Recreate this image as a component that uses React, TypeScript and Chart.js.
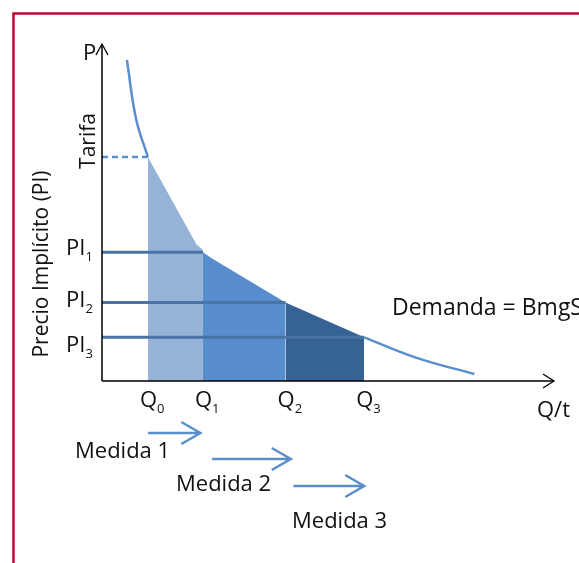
import { useEffect, useRef } from 'react';
import { Chart, registerables } from 'chart.js';

Chart.register(...registerables);

const W = 579;
const H = 563;

// Axis extents (data units)
const X_MAX = 17.2;
const Y_MAX = 15;

// Quantities Q0..Q3
const Q_VALUES = [1.75, 3.85, 7, 10];
const Q_SUBS = ['0', '1', '2', '3'];

// Implicit prices PI1..PI3 and tariff
const PI_VALUES = [5.75, 3.5, 1.95];
const PI_SUBS = ['1', '2', '3'];
const TARIFA = 10;

// Demand curve (visible parts)
const DEMAND_UPPER_X = [0.95, 1.3, 1.75];
const DEMAND_UPPER_Y = [14.33, 11.7, 10];
const DEMAND_LOWER_X = [10, 12, 14.2];
const DEMAND_LOWER_Y = [1.95, 1.03, 0.31];

// Shaded areas (top edges, following the demand curve)
const AREA1_X = [1.75, 3.6, 3.85];
const AREA1_Y = [10, 6.1, 5.85];
const AREA2_X = [3.85, 4.15, 7];
const AREA2_Y = [5.75, 5.5, 3.5];
const AREA3_X = [7, 10];
const AREA3_Y = [3.5, 1.95];

// "Medida" arrows (from/to in Q units)
const MEDIDA_LABELS = ['Medida 1', 'Medida 2', 'Medida 3'];
const MEDIDA_FROM = [1.75, 4.2, 7.3];
const MEDIDA_TO = [3.75, 7.2, 10];

const BLUE = '#5B8FCC';
const FONT = "'Open Sans', 'DejaVu Sans', sans-serif";
const FS = 22;

const pts = (xs: number[], ys: number[]) => xs.map((x, i) => ({ x, y: ys[i] }));

const drawingPlugin = {
  id: 'diagram',
  afterDraw(chart: any) {
    const ctx: CanvasRenderingContext2D = chart.ctx;
    const xs = chart.scales.x;
    const ys = chart.scales.y;
    const x0 = xs.getPixelForValue(0);
    const y0 = ys.getPixelForValue(0);
    const xEnd = xs.getPixelForValue(X_MAX);
    const yTop = ys.getPixelForValue(Y_MAX);

    ctx.save();
    // frame
    ctx.strokeStyle = '#C4002F';
    ctx.lineWidth = 2.5;
    ctx.beginPath();
    ctx.moveTo(13.5, H + 5);
    ctx.lineTo(13.5, 13.5);
    ctx.lineTo(W + 5, 13.5);
    ctx.stroke();

    // axes
    ctx.strokeStyle = '#000';
    ctx.lineWidth = 1.5;
    ctx.beginPath();
    ctx.moveTo(x0, y0);
    ctx.lineTo(x0, yTop);
    ctx.moveTo(x0, y0);
    ctx.lineTo(xEnd, y0);
    ctx.stroke();
    ctx.lineWidth = 1.3;
    ctx.beginPath();
    ctx.moveTo(x0 - 6, yTop + 10);
    ctx.lineTo(x0, yTop - 1);
    ctx.lineTo(x0 + 6, yTop + 10);
    ctx.moveTo(xEnd - 10, y0 - 7);
    ctx.lineTo(xEnd + 1, y0);
    ctx.lineTo(xEnd - 10, y0 + 7);
    ctx.stroke();

    ctx.fillStyle = '#111';
    ctx.textBaseline = 'alphabetic';
    ctx.textAlign = 'left';
    const sub = (main: string, s: string, x: number, y: number, size: number) => {
      ctx.font = `${size}px ${FONT}`;
      ctx.fillText(main, x, y);
      const w = ctx.measureText(main).width;
      ctx.font = `${Math.round(size * 0.6)}px ${FONT}`;
      ctx.fillText(s, x + w, y + 6);
    };

    // P label
    ctx.font = `22px ${FONT}`;
    ctx.fillText('P', x0 - 19, yTop + 15);

    // PI labels
    const piOffsets = [3, 4, 15];
    PI_VALUES.forEach((v, i) => {
      sub('PI', PI_SUBS[i], 66, ys.getPixelForValue(v) + piOffsets[i], FS);
    });

    // Q labels
    Q_VALUES.forEach((v, i) => {
      sub('Q', Q_SUBS[i], xs.getPixelForValue(v) - 8, y0 + 26, FS);
    });
    ctx.font = `${FS}px ${FONT}`;
    ctx.fillText('Q/t', 537, y0 + 36);
    ctx.font = `23px ${FONT}`;
    ctx.fillText('Demanda = BmgS', 392, ys.getPixelForValue(PI_VALUES[1]) + 12);

    // rotated labels
    ctx.save();
    ctx.translate(95, ys.getPixelForValue(TARIFA) - 16);
    ctx.rotate(-Math.PI / 2);
    ctx.textAlign = 'center';
    ctx.font = `21px ${FONT}`;
    ctx.fillText('Tarifa', 0, 0);
    ctx.restore();

    ctx.save();
    ctx.translate(48, 264);
    ctx.rotate(-Math.PI / 2);
    ctx.textAlign = 'center';
    ctx.font = `21px ${FONT}`;
    ctx.fillText('Precio Implícito (PI)', 0, 0);
    ctx.restore();

    // Medida arrows
    const arrowY = [52, 78, 105];
    const labelX = [75, 176, 292];
    const labelY = [77, 110, 147];
    ctx.strokeStyle = BLUE;
    ctx.lineWidth = 2.5;
    MEDIDA_LABELS.forEach((lab, i) => {
      const a = xs.getPixelForValue(MEDIDA_FROM[i]);
      const b = xs.getPixelForValue(MEDIDA_TO[i]);
      const y = y0 + arrowY[i];
      ctx.beginPath();
      ctx.moveTo(a, y);
      ctx.lineTo(b, y);
      ctx.moveTo(b - 19, y - 11);
      ctx.lineTo(b, y);
      ctx.lineTo(b - 19, y + 11);
      ctx.stroke();
      ctx.fillStyle = '#111';
      ctx.font = `${FS}px ${FONT}`;
      ctx.fillText(lab, labelX[i], y0 + labelY[i]);
    });
    ctx.restore();
  },
};

export default function App() {
  const ref = useRef<HTMLCanvasElement>(null);
  useEffect(() => {
    const line = (data: any[], extra: any) => ({
      data,
      showLine: true,
      pointRadius: 0,
      borderWidth: 0,
      ...extra,
    });
    const datasets: any[] = [
      ...PI_VALUES.map((v, i) =>
        line(pts([0, Q_VALUES[i + 1]], [v, v]), { borderColor: '#4A74A6', borderWidth: 3, order: 0 })
      ),
      line(pts([0, Q_VALUES[0]], [TARIFA, TARIFA]), {
        borderColor: BLUE,
        borderWidth: 2.5,
        borderDash: [6, 4],
        order: 0,
      }),
      line(pts(DEMAND_UPPER_X, DEMAND_UPPER_Y), {
        borderColor: BLUE,
        borderWidth: 2.5,
        tension: 0.4,
        order: 0,
      }),
      line(pts(DEMAND_LOWER_X, DEMAND_LOWER_Y), {
        borderColor: BLUE,
        borderWidth: 2.5,
        tension: 0.4,
        order: 0,
      }),
      line(pts(AREA1_X, AREA1_Y), { fill: 'origin', backgroundColor: '#95B3D7', borderColor: '#95B3D7', order: 1 }),
      line(pts(AREA2_X, AREA2_Y), { fill: 'origin', backgroundColor: '#578DCC', borderColor: '#578DCC', order: 1 }),
      line(pts(AREA3_X, AREA3_Y), { fill: 'origin', backgroundColor: '#366294', borderColor: '#366294', order: 1 }),
    ];
    const chart = new Chart(ref.current as HTMLCanvasElement, {
      type: 'scatter',
      data: { datasets },
      options: {
        animation: false,
        responsive: false,
        devicePixelRatio: 1,
        layout: { padding: { left: 102, right: 26, top: 45, bottom: 182 } },
        scales: {
          x: { type: 'linear', min: 0, max: X_MAX, display: false },
          y: { type: 'linear', min: 0, max: Y_MAX, display: false },
        },
        plugins: { legend: { display: false }, tooltip: { enabled: false } },
      },
      plugins: [drawingPlugin],
    } as any);
    return () => chart.destroy();
  }, []);
  return (
    <div style={{ position: 'fixed', left: 0, top: 0, width: W, height: H, background: '#fff' }}>
      <canvas ref={ref} width={W} height={H} style={{ display: 'block', width: W, height: H }} />
    </div>
  );
}
